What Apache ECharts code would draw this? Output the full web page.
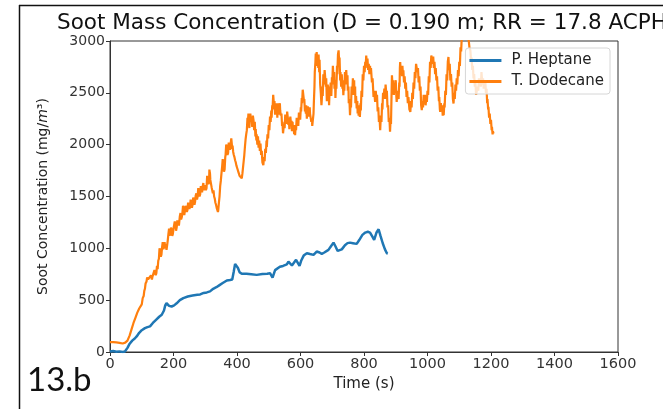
<!DOCTYPE html>
<html>
<head>
<meta charset="utf-8">
<script src="https://cdn.jsdelivr.net/npm/echarts@6/dist/echarts.min.js"></script>
<style>
    html, body { margin: 0; padding: 0; background: #fff; }
    #chart-container { width: 663px; height: 409px; }
</style>
</head>
<body>
<div id="chart-container"></div>
<script>
// series names
var seriesNames = ['P. Heptane', 'T. Dodecane'];

// P. Heptane, time (s) and soot concentration (mg/m3)
var heptaneTime = [0, 10, 20, 30, 40, 47, 55, 62, 70, 78, 84, 92, 100, 110, 118, 126, 135, 145, 155, 163,
    170, 174, 178, 182, 186, 194, 202, 210, 220, 231, 245, 260, 275, 284, 295, 305, 315, 325, 335, 345,
    355, 368, 378, 385, 390, 394, 398, 403, 408, 415, 430, 445, 462, 480, 495, 504, 508, 512, 516, 520,
    525, 535, 545, 557, 562, 567, 573, 578, 586, 590, 597, 602, 610, 620, 630, 641, 651, 660, 667, 675,
    688, 696, 704, 710, 717, 723, 730, 740, 748, 756, 765, 777, 785, 795, 804, 812, 819, 826, 832, 839,
    846, 852, 859, 866, 872, 875];
var heptaneValue = [5, 10, 2, 6, 0, 5, 40, 80, 110, 130, 150, 185, 210, 230, 240, 247, 280, 310, 340, 359,
    400, 450, 472, 460, 445, 439, 450, 470, 500, 520, 535, 545, 552, 555, 570, 575, 585, 610, 625, 645,
    665, 690, 695, 700, 780, 850, 845, 810, 770, 754, 755, 750, 744, 752, 755, 760, 740, 718, 730, 790,
    808, 822, 830, 845, 872, 860, 834, 850, 889, 870, 831, 880, 930, 953, 945, 937, 969, 960, 947, 960,
    985, 1020, 1055, 1020, 975, 959, 990, 1030, 1050, 1055, 1050, 1043, 1080, 1130, 1152, 1160, 1152, 1115, 1081, 1150,
    1184, 1120, 1049, 990, 953, 950];

// T. Dodecane, time (s) and soot concentration (mg/m3), one line of times per line of values
var dodecaneTime = [
    0, 10, 20, 30, 40, 48, 55, 62, 68, 74,
    80, 86, 92, 100, 103, 106, 108, 110, 112, 115,
    117, 120, 123, 126, 129, 132, 134, 137, 140, 142,
    144, 146, 148, 150, 152, 154, 156, 158, 160, 162,
    164, 166, 168, 170, 172, 174, 176, 178, 180, 182,
    184, 186, 188, 190, 192, 194, 196, 198, 200, 202,
    204, 206, 208, 210, 212, 215, 217, 220, 222, 224,
    226, 228, 230, 232, 234, 236, 238, 240, 242, 244,
    246, 248, 250, 252, 254, 256, 258, 260, 262, 264,
    266, 268, 270, 272, 274, 276, 278, 280, 282, 284,
    286, 288, 290, 292, 294, 296, 298, 300, 302, 304,
    306, 308, 310, 312, 313, 315, 316, 318, 320, 322,
    324, 326, 328, 330, 332, 334, 336, 338, 340, 341,
    343, 345, 347, 349, 351, 353, 355, 357, 359, 361,
    363, 364, 366, 368, 370, 372, 374, 376, 378, 380,
    382, 383, 385, 386, 388, 390, 392, 394, 396, 398,
    400, 402, 404, 406, 408, 410, 412, 415, 417, 419,
    421, 423, 425, 427, 429,
    431, 433, 434, 436, 437, 439, 440, 442, 444, 446,
    448, 450, 452, 454, 456, 458, 459, 461, 462, 464,
    466, 468, 470, 472, 474, 476, 478, 480, 483, 485,
    487, 489, 491, 493, 494, 496, 498, 500, 502, 504,
    506, 508, 509, 511, 512, 514, 515, 517, 518, 520,
    521, 523, 524, 526, 527, 529, 530, 532, 533, 535,
    536, 538, 540, 542, 543, 545, 546, 548, 550, 552,
    553, 555, 556, 558, 560, 562, 563, 565, 566, 568,
    570, 572, 573, 575, 576, 578, 580, 582, 583, 585,
    586, 588, 590, 592, 593, 595, 596, 598, 599, 601,
    602, 604, 605, 607, 609, 611, 612, 614, 615, 617,
    618, 620, 621, 623, 624, 626, 627, 629, 630, 632,
    634, 636, 637, 639,
    641, 642, 644, 645, 647, 648, 650, 651, 653, 654,
    656, 657, 659, 660, 662, 664, 666, 667, 669, 670,
    672, 674, 676, 678, 680, 681, 683, 684, 686, 687,
    689, 690, 692, 693, 695, 697, 699, 700, 702, 704,
    706, 707, 709, 710, 712, 713, 715, 716, 718, 720,
    722, 723, 725, 726, 728, 730, 732, 733, 735, 737,
    738, 740, 742, 744, 746, 748, 749, 751, 752, 754,
    756, 758, 759, 761, 763, 765, 767, 769, 770, 772,
    773, 775, 777, 779, 780, 782, 783, 785, 787, 789,
    790, 792, 794, 796, 798, 800, 802, 804, 805, 807,
    809, 811, 813, 815, 817, 819, 820, 822, 825, 827,
    830, 832, 835, 837, 839, 841, 843, 845, 847, 849,
    851, 853, 855, 857, 858, 860, 862, 864, 866, 868,
    870, 872, 874, 876, 878, 880, 882, 884, 885, 887,
    888, 890, 892, 894, 896, 898, 900, 902, 903, 905,
    906, 908, 909, 911, 912, 913, 914, 916, 918, 920,
    921, 923, 924, 926, 928, 930, 932, 934, 936, 938,
    940, 943, 946, 948, 950, 952, 954, 956, 958, 960,
    962, 964, 967, 968, 970, 972, 974, 976, 978, 980,
    982, 984, 986, 988, 990, 992, 994, 996, 998, 1000,
    1002, 1004, 1006, 1008, 1010, 1012, 1014, 1016, 1018, 1020,
    1022, 1024, 1026, 1028, 1030, 1032, 1034, 1036, 1037, 1039,
    1040, 1042, 1044, 1046, 1048, 1050, 1051, 1053, 1054, 1056,
    1058, 1060, 1062, 1064, 1066, 1068, 1070, 1072, 1074, 1076,
    1078, 1080, 1082, 1084, 1086, 1088, 1090, 1092, 1094, 1096,
    1098, 1100, 1102, 1104, 1106, 1108, 1110, 1112, 1114, 1116,
    1118, 1120, 1122, 1124, 1126, 1128, 1130, 1132, 1135, 1137,
    1139, 1141, 1143, 1145, 1147, 1149, 1151, 1153, 1156, 1158,
    1160, 1162, 1164, 1166, 1168, 1170, 1171, 1173, 1175, 1177,
    1179, 1181, 1182, 1184, 1186, 1188, 1189, 1191, 1192, 1194,
    1196, 1198, 1200, 1202, 1203, 1205, 1206, 1208
];
var dodecaneValue = [
    96, 95, 92, 88, 82, 90, 110, 160, 220, 280,
    330, 380, 420, 460, 520, 540, 590, 610, 660, 680,
    720, 700, 690, 712, 740, 700, 730, 720, 790, 776,
    740, 760, 830, 800, 880, 900, 1000, 970, 920, 940,
    1010, 1060, 990, 1020, 1060, 1000, 1040, 985, 1030, 1080,
    1140, 1190, 1120, 1150, 1200, 1180, 1120, 1140, 1190, 1200,
    1260, 1230, 1170, 1200, 1270, 1260, 1220, 1310, 1340, 1280,
    1300, 1340, 1410, 1380, 1320, 1330, 1410, 1400, 1350, 1370,
    1440, 1420, 1380, 1400, 1470, 1440, 1390, 1420, 1490, 1470,
    1420, 1450, 1510, 1530, 1470, 1500, 1580, 1560, 1500, 1520,
    1600, 1580, 1540, 1600, 1630, 1560, 1610, 1620, 1560, 1580,
    1700, 1680, 1620, 1640, 1760, 1720, 1660, 1650, 1590, 1600,
    1530, 1560, 1500, 1480, 1440, 1420, 1390, 1380, 1350, 1370,
    1440, 1500, 1600, 1650, 1720, 1780, 1860, 1820, 1740, 1760,
    1880, 1900, 2000, 1980, 1900, 1920, 2020, 1990, 1950, 2010,
    2060, 2050, 1960, 1990, 1930, 1900, 1880, 1850, 1830, 1800,
    1780, 1760, 1740, 1720, 1700, 1690, 1700, 1675, 1720, 1780,
    1840, 1900, 1980, 2050, 2100,
    2140, 2260, 2200, 2300, 2270, 2160, 2240, 2300, 2220, 2260,
    2170, 2280, 2236, 2140, 2220, 2080, 2150, 2040, 2100, 2000,
    2080, 1970, 2040, 1940, 2010, 1900, 1940, 1830, 1803, 1880,
    1840, 1960, 1920, 2040, 1979, 2100, 2060, 2190, 2140, 2270,
    2220, 2330, 2260, 2380, 2340, 2480, 2493, 2360, 2420, 2290,
    2340, 2400, 2300, 2360, 2260, 2400, 2340, 2290, 2370, 2400,
    2330, 2280, 2300, 2180, 2220, 2110, 2140, 2200, 2160, 2290,
    2240, 2280, 2200, 2320, 2260, 2190, 2260, 2150, 2210, 2270,
    2200, 2230, 2130, 2220, 2160, 2190, 2100, 2150, 2092, 2190,
    2140, 2260, 2200, 2250, 2180, 2310, 2260, 2300, 2240, 2360,
    2320, 2450, 2400, 2530, 2525, 2420, 2440, 2320, 2360, 2300,
    2380, 2250, 2320, 2370, 2300, 2330, 2270, 2360, 2300, 2290,
    2220, 2240, 2180, 2172,
    2300, 2400, 2560, 2700, 2800, 2880, 2790, 2894, 2760, 2860,
    2740, 2870, 2700, 2820, 2580, 2500, 2380, 2429, 2560, 2470,
    2680, 2580, 2720, 2718, 2560, 2640, 2420, 2510, 2580, 2440,
    2520, 2380, 2560, 2480, 2600, 2470, 2650, 2580, 2760, 2640,
    2700, 2540, 2610, 2450, 2620, 2540, 2760, 2680, 2870, 2910,
    2780, 2840, 2620, 2700, 2560, 2680, 2540, 2620, 2477, 2600,
    2520, 2700, 2580, 2720, 2610, 2670, 2520, 2560, 2400, 2440,
    2285, 2420, 2360, 2560, 2480, 2640, 2560, 2620, 2480, 2560,
    2400, 2470, 2350, 2420, 2300, 2380, 2280, 2340, 2268, 2400,
    2330, 2520, 2460, 2680, 2620, 2760, 2700, 2800, 2740, 2860,
    2780, 2830, 2720, 2780, 2680, 2760, 2700, 2740, 2600, 2640,
    2461, 2520, 2413, 2520, 2440, 2480, 2320, 2360, 2220, 2260,
    2140, 2280, 2220, 2400, 2340, 2500, 2440, 2540, 2440, 2580,
    2500, 2520, 2360, 2380, 2220, 2260, 2124, 2260, 2200, 2520,
    2670, 2560, 2620, 2480, 2560, 2520, 2622, 2460, 2413, 2520,
    2440, 2500, 2440, 2600, 2560, 2740, 2798, 2680, 2760, 2660,
    2760, 2660, 2718, 2600, 2660, 2540, 2600, 2460, 2520, 2400,
    2460, 2340, 2316, 2420, 2360, 2500, 2440, 2600, 2540, 2700,
    2640, 2780, 2798, 2700, 2740, 2600, 2660, 2520, 2560, 2380,
    2333, 2420, 2360, 2480, 2420, 2480, 2380, 2440, 2413, 2520,
    2480, 2660, 2600, 2800, 2740, 2860, 2878, 2780, 2850, 2740,
    2800, 2680, 2740, 2620, 2660, 2520, 2560, 2420, 2460, 2340,
    2316, 2400, 2340, 2380, 2280, 2320, 2285, 2400, 2360, 2520,
    2480, 2680, 2620, 2800, 2846, 2720, 2780, 2620, 2680, 2560,
    2600, 2440, 2397, 2500, 2440, 2580, 2520, 2640, 2580, 2720,
    2660, 2800, 2760, 2940, 2900, 3050, 3080, 3120, 3100, 3050,
    3060, 3110, 3090, 3060, 3080, 3040, 3000, 2940, 2910, 2820,
    2840, 2720, 2760, 2640, 2680, 2560, 2600, 2480, 2461, 2560,
    2520, 2640, 2580, 2640, 2560, 2700, 2686, 2580, 2640, 2540,
    2620, 2580, 2622, 2500, 2540, 2400, 2440, 2340, 2364, 2260,
    2300, 2200, 2240, 2140, 2172, 2100, 2130, 2108
];

var toPairs = function (xs, ys) {
    var out = [];
    var n = Math.min(xs.length, ys.length);
    for (var i = 0; i < n; i++) {
        out.push([xs[i], ys[i]]);
    }
    return out;
};

var plainNumber = function (v) { return String(v); };

var myChart = echarts.init(document.getElementById('chart-container'), null, { renderer: 'canvas' });

var option = {
    backgroundColor: '#fff',
    animation: false,
    textStyle: { fontFamily: 'DejaVu Sans' },
    title: {
        text: 'Soot Mass Concentration (D = 0.190 m; RR = 17.8 ACPH)',
        left: 57,
        top: 12,
        padding: 0,
        textStyle: { fontSize: 21.5, fontWeight: 'normal', color: '#111', fontFamily: 'DejaVu Sans' }
    },
    legend: {
        data: seriesNames,
        orient: 'vertical',
        right: 53,
        top: 48,
        padding: [5, 6, 5, 4],
        itemGap: 6,
        itemWidth: 32,
        itemHeight: 3,
        icon: 'rect',
        backgroundColor: 'rgba(255,255,255,0.8)',
        borderColor: '#d6d6d6',
        borderWidth: 1,
        borderRadius: 3,
        textStyle: { fontSize: 15, color: '#222', fontFamily: 'DejaVu Sans', padding: [0, 0, 0, 5] }
    },
    grid: {
        left: 110,
        right: 45,
        top: 41,
        bottom: 57,
        show: true,
        borderColor: '#333',
        borderWidth: 1,
        backgroundColor: 'transparent'
    },
    xAxis: {
        type: 'value',
        min: 0,
        max: 1600,
        interval: 200,
        name: 'Time (s)',
        nameLocation: 'middle',
        nameGap: 25,
        nameTextStyle: { fontSize: 15, color: '#222', fontFamily: 'DejaVu Sans' },
        axisLine: { show: true, lineStyle: { color: '#333', width: 1 } },
        axisTick: { show: true, length: 4, lineStyle: { color: '#333' } },
        axisLabel: { fontSize: 14.5, color: '#333', margin: 5, formatter: plainNumber },
        splitLine: { show: false }
    },
    yAxis: {
        type: 'value',
        min: 0,
        max: 3000,
        interval: 500,
        name: 'Soot Concentration (mg/{i|m}³)',
        nameLocation: 'middle',
        nameGap: 60,
        nameTextStyle: {
            fontSize: 14, color: '#222', fontFamily: 'DejaVu Sans',
            rich: { i: { fontSize: 14, fontStyle: 'italic', color: '#222', fontFamily: 'DejaVu Sans' } }
        },
        axisLine: { show: true, lineStyle: { color: '#333', width: 1 } },
        axisTick: { show: true, length: 4, lineStyle: { color: '#333' } },
        axisLabel: { fontSize: 14, color: '#333', margin: 5, formatter: plainNumber },
        splitLine: { show: false }
    },
    graphic: [
        { type: 'line', shape: { x1: 19, y1: 5.5, x2: 663, y2: 5.5 }, style: { stroke: '#111', lineWidth: 1.5 } },
        { type: 'line', shape: { x1: 19.5, y1: 5, x2: 19.5, y2: 409 }, style: { stroke: '#111', lineWidth: 1.5 } },
        {
            type: 'text', left: 27, top: 364,
            style: { text: '13.b', fontSize: 33, fill: '#111', fontFamily: 'Lato' }
        }
    ],
    series: [
        {
            name: seriesNames[0],
            type: 'line',
            data: toPairs(heptaneTime, heptaneValue),
            showSymbol: false,
            symbol: 'none',
            itemStyle: { color: '#1f77b4' },
            lineStyle: { color: '#1f77b4', width: 2.5 }
        },
        {
            name: seriesNames[1],
            type: 'line',
            data: toPairs(dodecaneTime, dodecaneValue),
            showSymbol: false,
            symbol: 'none',
            itemStyle: { color: '#ff7f0e' },
            lineStyle: { color: '#ff7f0e', width: 2.2 }
        }
    ]
};

myChart.setOption(option);
</script>
</body>
</html>
